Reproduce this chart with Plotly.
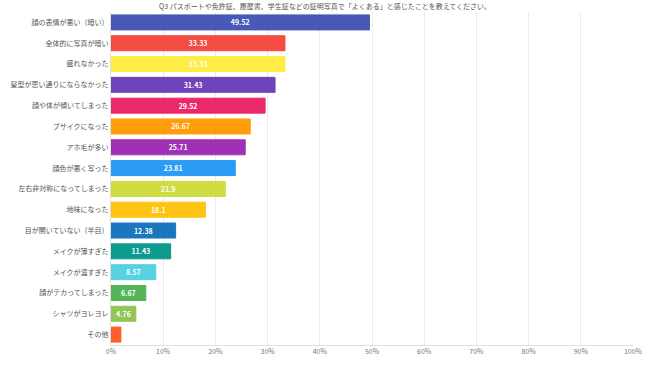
import plotly.graph_objects as go

title = "Q3 パスポートや免許証、履歴書、学生証などの証明写真で「よくある」と感じたことを教えてください。"
categories = [
    "顔の表情が悪い（暗い）", "全体的に写真が暗い", "盛れなかった", "髪型が思い通りにならなかった",
    "顔や体が傾いてしまった", "ブサイクになった", "アホ毛が多い", "顔色が悪く写った",
    "左右非対称になってしまった", "地味になった", "目が開いていない（半目）", "メイクが薄すぎた",
    "メイクが濃すぎた", "顔がテカってしまった", "シャツがヨレヨレ", "その他",
]
values = [49.52, 33.33, 33.33, 31.43, 29.52, 26.67, 25.71, 23.81, 21.9, 18.1,
          12.38, 11.43, 8.57, 6.67, 4.76, 1.9]
colors = ["#3F51B5", "#F44336", "#FFEB3B", "#673AB7", "#E91E63", "#FF9800", "#9C27B0",
          "#2196F3", "#CDDC39", "#FFC107", "#0D70BB", "#009688", "#4DD0E1", "#4CAF50",
          "#8BC34A", "#FF5722"]
x_ticks = list(range(0, 101, 10))
x_tick_labels = [f"{t}%" for t in x_ticks]

font = "Noto Sans CJK JP, Noto Sans, sans-serif"
L, R, T, B, W, H = 111, 17, 12, 20, 650, 365
plot_h = H - T - B

# value labels are only drawn where they fit inside the bar
labels = [f"{v:g}" if v >= 3 else "" for v in values]

fig = go.Figure(go.Bar(
    y=categories,
    x=values,
    orientation="h",
    marker=dict(color=colors, opacity=0.95, line=dict(color=colors, width=1)),
    text=labels,
    textposition="inside",
    insidetextanchor="middle",
    textangle=0,
    constraintext="none",
    textfont=dict(color="white", size=7, family=font, weight="bold"),
    hoverinfo="skip",
))

fig.update_layout(
    width=W, height=H,
    margin=dict(l=L, r=R, t=T, b=B, autoexpand=False),
    paper_bgcolor="white", plot_bgcolor="white",
    bargap=0.28,
    showlegend=False,
    font=dict(family=font, size=7, color="#666"),
    annotations=[dict(
        text=title, x=(325 - L) / (W - L - R), xref="paper", xanchor="center",
        y=1 + 6.5 / plot_h, yref="paper", yanchor="middle",
        showarrow=False, borderpad=0,
        font=dict(size=7, color="#555", family=font),
    )],
)

fig.update_xaxes(
    range=[0, 100], tickvals=x_ticks, ticktext=x_tick_labels,
    showgrid=True, gridcolor="#ebebeb", gridwidth=1,
    zeroline=False, showline=True, linecolor="#e0e0e0",
    ticks="", automargin=False, tickfont=dict(size=7, color="#777"),
)
fig.update_yaxes(
    categoryorder="array", categoryarray=categories, autorange="reversed",
    showline=True, linecolor="#e0e0e0", ticks="", automargin=False,
    tickfont=dict(size=7, color="#555"),
)

fig.write_html("out.html", config={"displayModeBar": False},
               post_script="document.body.style.margin='0';")
